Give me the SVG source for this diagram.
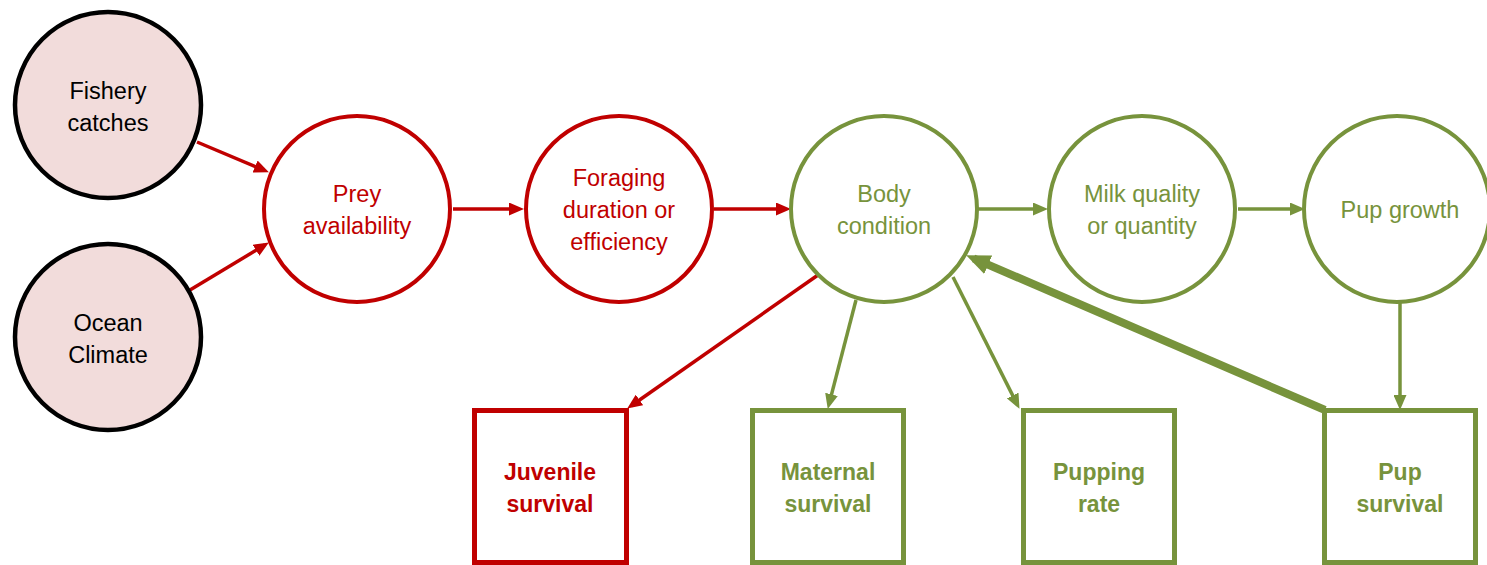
<svg xmlns="http://www.w3.org/2000/svg" width="1487" height="565" viewBox="0 0 1487 565">
<defs>
<style>
.txt{font-family:"Liberation Sans",Arial,sans-serif;font-size:23.5px;text-anchor:middle}
.bold{font-family:"Liberation Sans",Arial,sans-serif;font-size:23px;font-weight:bold;text-anchor:middle}
.driver{fill:#F2DCDB;stroke:#000000;stroke-width:4.5}
.rc{fill:#FFFFFF;stroke:#C00000;stroke-width:4}
.gc{fill:#FFFFFF;stroke:#77933C;stroke-width:4}
.rbox{fill:#FFFFFF;stroke:#C00000;stroke-width:5}
.gbox{fill:#FFFFFF;stroke:#77933C;stroke-width:5}
.rline{fill:none;stroke:#C00000;stroke-width:3.5}
.gline{fill:none;stroke:#77933C;stroke-width:3.5}
.gthick{fill:none;stroke:#77933C;stroke-width:8}
.rt{fill:#C00000}
.gt{fill:#77933C}
.kt{fill:#000000}
</style>
<marker id="ar" markerUnits="userSpaceOnUse" markerWidth="15" markerHeight="13" refX="10" refY="6.5" orient="auto" viewBox="0 0 15 13"><path d="M0,0 L15,6.5 L0,13 z" fill="#C00000"/></marker>
<marker id="ag" markerUnits="userSpaceOnUse" markerWidth="15" markerHeight="13" refX="10" refY="6.5" orient="auto" viewBox="0 0 15 13"><path d="M0,0 L15,6.5 L0,13 z" fill="#77933C"/></marker>
<marker id="agb" markerUnits="userSpaceOnUse" markerWidth="24" markerHeight="20" refX="16" refY="10" orient="auto" viewBox="0 0 24 20"><path d="M0,0 L24,10 L0,20 z" fill="#77933C"/></marker>
</defs>

<g id="connectors">
<line class="rline" x1="197" y1="142" x2="264.3" y2="170.4" marker-end="url(#ar)"/>
<line class="rline" x1="190" y1="290" x2="264.6" y2="245.1" marker-end="url(#ar)"/>
<line class="rline" x1="453" y1="209" x2="519" y2="209" marker-end="url(#ar)"/>
<line class="rline" x1="714" y1="209" x2="786" y2="209" marker-end="url(#ar)"/>
<line class="gline" x1="978" y1="209" x2="1043" y2="209" marker-end="url(#ag)"/>
<line class="gline" x1="1238" y1="209" x2="1300" y2="209" marker-end="url(#ag)"/>
<line class="gline" x1="1400" y1="303" x2="1400" y2="405" marker-end="url(#ag)"/>
<line class="rline" x1="818" y1="275" x2="631.3" y2="405.7" marker-end="url(#ar)"/>
<line class="gline" x1="856" y1="300" x2="829" y2="404.1" marker-end="url(#ag)"/>
<line class="gline" x1="953" y1="277" x2="1017.2" y2="404.4" marker-end="url(#ag)"/>
<line class="gthick" x1="1325" y1="410" x2="973.5" y2="258.4" marker-end="url(#agb)"/>
</g>

<g id="fishery">
<circle class="driver" cx="108" cy="105" r="93"/>
<text class="txt kt" x="108" y="99">Fishery</text>
<text class="txt kt" x="108" y="131">catches</text>
</g>
<g id="ocean">
<circle class="driver" cx="108" cy="337" r="93"/>
<text class="txt kt" x="108" y="331">Ocean</text>
<text class="txt kt" x="108" y="363">Climate</text>
</g>
<g id="prey">
<circle class="rc" cx="357" cy="209" r="93"/>
<text class="txt rt" x="357" y="202">Prey</text>
<text class="txt rt" x="357" y="234">availability</text>
</g>
<g id="foraging">
<circle class="rc" cx="619" cy="209" r="93"/>
<text class="txt rt" x="619" y="186">Foraging</text>
<text class="txt rt" x="619" y="218">duration or</text>
<text class="txt rt" x="619" y="250">efficiency</text>
</g>
<g id="body">
<circle class="gc" cx="884" cy="209" r="93"/>
<text class="txt gt" x="884" y="202">Body</text>
<text class="txt gt" x="884" y="234">condition</text>
</g>
<g id="milk">
<circle class="gc" cx="1142" cy="209" r="93"/>
<text class="txt gt" x="1142" y="202">Milk quality</text>
<text class="txt gt" x="1142" y="234">or quantity</text>
</g>
<g id="pupgrowth">
<circle class="gc" cx="1397" cy="209" r="93"/>
<text class="txt gt" x="1400" y="218">Pup growth</text>
</g>
<g id="juvenile">
<rect class="rbox" x="474.5" y="410.5" width="152" height="152"/>
<text class="bold rt" x="550" y="480">Juvenile</text>
<text class="bold rt" x="550" y="512">survival</text>
</g>
<g id="maternal">
<rect class="gbox" x="752.5" y="410.5" width="151" height="152"/>
<text class="bold gt" x="828" y="480">Maternal</text>
<text class="bold gt" x="828" y="512">survival</text>
</g>
<g id="pupping">
<rect class="gbox" x="1023.5" y="410.5" width="151" height="152"/>
<text class="bold gt" x="1099" y="480">Pupping</text>
<text class="bold gt" x="1099" y="512">rate</text>
</g>
<g id="pupsurvival">
<rect class="gbox" x="1324.5" y="410.5" width="151" height="152"/>
<text class="bold gt" x="1400" y="480">Pup</text>
<text class="bold gt" x="1400" y="512">survival</text>
</g>
</svg>
